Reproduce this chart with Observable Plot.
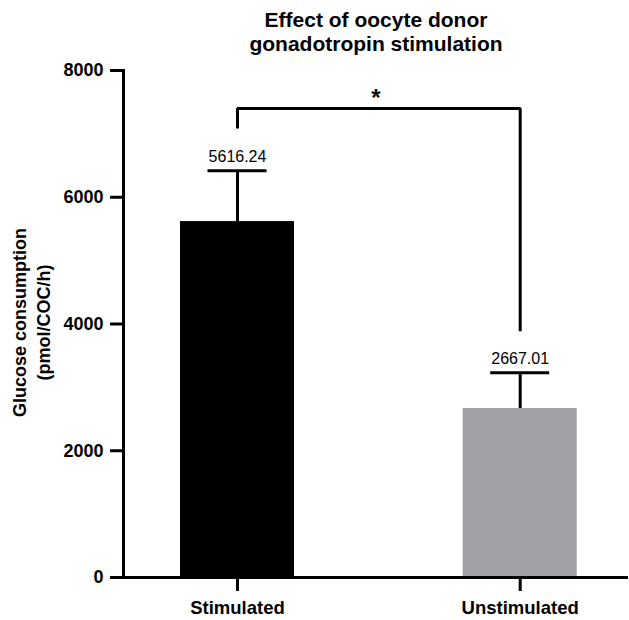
<!DOCTYPE html>
<html>
<head>
<meta charset="utf-8">
<script src="https://cdn.jsdelivr.net/npm/d3@7"></script>
<script src="https://cdn.jsdelivr.net/npm/@observablehq/plot@0.6"></script>
<style>
  html, body { margin: 0; padding: 0; background: #fff; }
  #chart svg { display: block; }
</style>
</head>
<body>
<div id="chart"></div>
<script>
// Data
const categories = ["Stimulated", "Unstimulated"];
const means = [5616.24, 2667.01];
const sems = [800, 564];
const colors = ["#000000", "#a1a1a5"];
const yTicks = [0, 2000, 4000, 6000, 8000];
const titleLines = ["Effect of oocyte donor", "gonadotropin stimulation"];
const yTitleLines = ["Glucose consumption", "(pmol/COC/h)"];
// Significance bracket (left leg bottom, bar height, right leg bottom) and label
const bracketTop = 7400;
const bracketLeftBottom = 7085;
const bracketRightBottom = 3886;
const sigLabel = "*";

const rows = categories.map((c, i) => ({
  cat: c, mean: means[i], upper: means[i] + sems[i], color: colors[i],
  label: means[i].toFixed(2)
}));
const bracket = [
  {cat: categories[0], v: bracketLeftBottom},
  {cat: categories[0], v: bracketTop},
  {cat: categories[1], v: bracketTop},
  {cat: categories[1], v: bracketRightBottom}
];

const font = "'Liberation Sans', Arial, Helvetica, sans-serif";

const chart = Plot.plot({
  width: 629,
  height: 620,
  marginTop: 70,
  marginBottom: 43,
  marginLeft: 123,
  marginRight: 1,
  style: {fontFamily: font, background: "#fff", color: "#000"},
  x: {domain: categories, range: [180, 576.7], paddingInner: 0.5967, paddingOuter: 0, round: false, label: null},
  y: {domain: [0, 8000], label: null},
  marks: [
    Plot.barY(rows, {x: "cat", y: "mean", fill: "color"}),
    Plot.ruleX(rows, {x: "cat", y1: "mean", y2: "upper", stroke: "#000", strokeWidth: 3}),
    Plot.tickY(rows, {x: "cat", y: "upper", stroke: "#000", strokeWidth: 3, insetLeft: 27.5, insetRight: 27.5}),
    Plot.text(rows, {x: "cat", y: "upper", text: "label", dy: -14, fontSize: 16, fill: "#000"}),
    Plot.line(bracket, {x: "cat", y: "v", stroke: "#000", strokeWidth: 3, strokeLinejoin: "miter", strokeLinecap: "butt", curve: "linear"}),
    Plot.text([{t: sigLabel, v: bracketTop}], {y: "v", text: "t", frameAnchor: "middle", dy: -10, fontSize: 24, fontWeight: "bold", fill: "#000"}),
    Plot.axisY({ticks: yTicks, tickFormat: d => String(d), tickSize: 13, tickPadding: 7, strokeWidth: 3, fontSize: 18, fontWeight: "bold", label: null}),
    Plot.axisX({tickSize: 14, tickPadding: 9, strokeWidth: 3, fontSize: 18.5, fontWeight: "bold", label: null}),
    Plot.ruleY([0], {stroke: "#000", strokeWidth: 3}),
    Plot.frame({anchor: "left", stroke: "#000", strokeWidth: 3}),
    Plot.text([titleLines.join("\n")], {frameAnchor: "top", lineAnchor: "middle", textAnchor: "middle", dy: -39, lineHeight: 1.14, fontSize: 21, fontWeight: "bold", fill: "#000"}),
    Plot.text([yTitleLines.join("\n")], {frameAnchor: "left", rotate: -90, textAnchor: "middle", lineAnchor: "middle", dx: -93, dy: -1.5, lineHeight: 1.3, fontSize: 18, fontWeight: "bold", fill: "#000"})
  ]
});
document.getElementById("chart").appendChild(chart);
</script>
</body>
</html>
